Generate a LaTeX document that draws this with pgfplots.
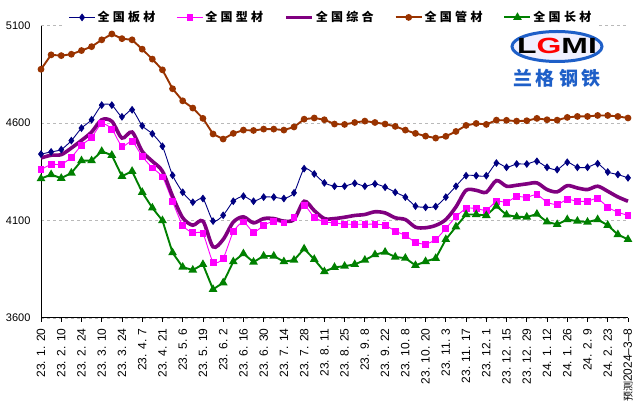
\documentclass[border=0pt]{standalone}
\usepackage{fontspec}
\setmainfont{Liberation Sans}
\newfontfamily\cjk{Noto Sans CJK SC}
\usepackage{pgfplots}
\usepackage{pgfplotstable}
\pgfplotsset{compat=1.18}
\definecolor{cban}{HTML}{000080}
\definecolor{cxing}{HTML}{FF00FF}
\definecolor{czong}{HTML}{800080}
\definecolor{cguan}{HTML}{993300}
\definecolor{cchang}{HTML}{008000}
\definecolor{logoblue}{HTML}{1E5FC8}
\newcommand\lgd[4]{{\cjk\bfseries #1\hspace{3.3pt}#2\hspace{3.3pt}#3\hspace{3.3pt}#4}}
\pgfplotstableread{
i ban xing zong guan chang
0 4441 4361 4421 4876 4315
1 4452 4388 4435 4950 4336
2 4464 4388 4438 4946 4317
3 4510 4424 4472 4953 4344
4 4574 4486 4511 4972 4407
5 4617 4527 4554 4992 4407
6 4692 4597 4617 5027 4455
7 4692 4569 4609 5057 4435
8 4632 4481 4523 5033 4327
9 4668 4506 4554 5027 4353
10 4586 4429 4455 4979 4245
11 4545 4370 4404 4928 4165
12 4481 4324 4353 4873 4100
13 4332 4197 4225 4776 3935
14 4245 4075 4114 4714 3861
15 4194 4037 4076 4677 3846
16 4213 4032 4097 4624 3875
17 4097 3887 3965 4544 3747
18 4127 3907 4003 4518 3781
19 4199 4042 4092 4547 3889
20 4225 4093 4119 4564 3930
21 4199 4040 4088 4562 3887
22 4220 4075 4110 4569 3918
23 4220 4097 4110 4569 3918
24 4213 4088 4097 4564 3889
25 4242 4117 4105 4580 3897
26 4366 4177 4199 4620 3955
27 4339 4117 4151 4626 3901
28 4293 4093 4110 4617 3838
29 4276 4088 4110 4595 3860
30 4276 4081 4117 4593 3866
31 4291 4081 4126 4603 3875
32 4276 4081 4131 4610 3897
33 4288 4081 4145 4603 3925
34 4271 4076 4139 4595 3938
35 4245 4046 4114 4583 3913
36 4220 4023 4105 4564 3907
37 4174 3989 4066 4547 3870
38 4168 3979 4063 4533 3890
39 4172 4003 4075 4523 3906
40 4220 4059 4105 4532 4003
41 4276 4119 4170 4557 4068
42 4330 4162 4255 4588 4131
43 4330 4162 4255 4598 4131
44 4330 4153 4245 4593 4126
45 4395 4199 4305 4615 4174
46 4373 4194 4276 4614 4129
47 4390 4223 4281 4610 4119
48 4390 4219 4288 4612 4118
49 4404 4233 4293 4624 4133
50 4373 4194 4259 4617 4093
51 4361 4182 4247 4615 4080
52 4399 4208 4279 4629 4105
53 4373 4199 4267 4634 4097
54 4373 4199 4259 4634 4092
55 4392 4213 4276 4639 4105
56 4349 4168 4250 4639 4076
57 4336 4143 4221 4634 4028
58 4319 4126 4199 4626 4003
}\data
\begin{document}
\begin{tikzpicture}
\begin{axis}[
  name=ax,
  scale only axis,
  width=587pt, height=292.4pt,
  xmin=0, xmax=58,
  ymin=3600, ymax=5100,
  ytick={3600,4100,4600,5100},
  xtick={0,2,...,58},
  xticklabels={23. 1. 20,23. 2. 10,23. 2. 24,23. 3. 10,23. 3. 24,23. 4. 7,23. 4. 21,23. 5. 6,23. 5. 19,23. 6. 2,23. 6. 16,23. 6. 30,23. 7. 14,23. 7. 28,23. 8. 11,23. 8. 25,23. 9. 8,23. 9. 22,23. 10. 8,23. 10. 20,23. 11. 3,23. 11. 17,23. 12. 1,23. 12. 15,23. 12. 29,24. 1. 12,24. 1. 26,24. 2. 9,24. 2. 23,{{\cjk\fontsize{10}{12}\selectfont 预测}2024–3–8}},
  axis x line*=bottom,
  axis y line*=left,
  axis line style={-, line width=1pt, black},
  tick align=outside,
  major tick length=4pt,
  xtick style={black, line width=0.8pt},
  ytick style={draw=none},
  ymajorgrids,
  major grid style={gray!55, line width=0.8pt, dash pattern=on 3pt off 3pt},
  /pgf/number format/assume math mode=true,
  /pgf/number format/1000 sep={},
  yticklabel style={font=\fontsize{11}{13}\selectfont, xshift=-3pt},
  xticklabel style={font=\fontsize{12}{14}\selectfont, rotate=90, anchor=east},
  xticklabel shift=3pt,
  legend columns=5,
  legend style={at={(0.494,1.028)}, anchor=center, draw=none, fill=white,
    font=\fontsize{12}{14}\selectfont, inner xsep=6pt, inner ysep=2pt,
    /tikz/every even column/.append style={column sep=19pt}},
  legend image code/.code={\draw[mark repeat=2,mark phase=2,#1] plot coordinates {(0pt,0pt) (13pt,0pt) (26pt,0pt)};},
  clip=false,
]
\addplot[cban, line width=0.9pt, smooth, tension=0.4, mark=diamond*, mark size=3.2pt, mark options={solid}] table[x=i, y=ban] {\data};
\addlegendentry{\lgd{全}{国}{板}{材}}
\addplot[cxing, line width=0.9pt, smooth, tension=0.4, mark=square*, mark size=2.9pt] table[x=i, y=xing] {\data};
\addlegendentry{\lgd{全}{国}{型}{材}}
\addplot[czong, line width=3.6pt, smooth, tension=0.5, no markers] table[x=i, y=zong] {\data};
\addlegendentry{\lgd{全}{国}{综}{合}}
\addplot[cguan, line width=1.9pt, mark=*, mark size=2.4pt] table[x=i, y=guan] {\data};
\addlegendentry{\lgd{全}{国}{管}{材}}
\addplot[cchang, line width=1.9pt, mark=triangle*, mark size=3.2pt] table[x=i, y=chang] {\data};
\addlegendentry{\lgd{全}{国}{长}{材}}
\end{axis}
% logo
\draw[logoblue, line width=3pt, fill=blue!6] ([shift={(516pt,271.5pt)}]ax.south west) ellipse [x radius=45pt, y radius=15pt];
\node at ([shift={(516pt,272pt)}]ax.south west) {\scalebox{1.45}[1]{\fontsize{22}{22}\selectfont\bfseries L\textcolor{red}{G}MI}};
\node[logoblue] at ([shift={(516pt,240pt)}]ax.south west) {\cjk\bfseries\fontsize{19}{19}\selectfont 兰\hspace{4pt}格\hspace{4pt}钢\hspace{4pt}铁};
\pgfresetboundingbox
\path ([shift={(-41pt,-99pt)}]ax.south west) rectangle ([shift={(602pt,318pt)}]ax.south west);
\end{tikzpicture}
\end{document}
